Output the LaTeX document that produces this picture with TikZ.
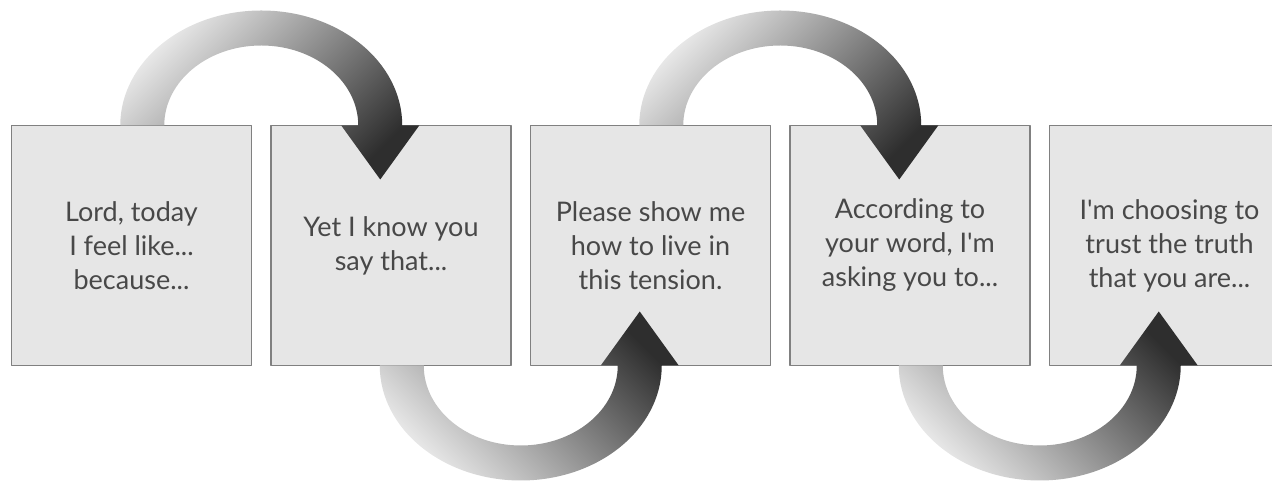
\documentclass[tikz,border=0pt]{standalone}
\usepackage{fontspec}
\setmainfont{Lato}
\usetikzlibrary{positioning,calc}
\definecolor{boxfill}{HTML}{E6E6E6}
\definecolor{boxline}{HTML}{808080}
\definecolor{boxtext}{HTML}{484848}
\definecolor{arrowlight}{HTML}{EAEAEA}
\definecolor{arrowdark}{HTML}{2E2E2E}
\begin{document}
\begin{tikzpicture}[x=1pt,y=1pt,line join=round]
	\tikzset{card/.style={draw=boxline,line width=1.2pt,fill=boxfill,minimum width=240pt,minimum height=240pt,
			inner sep=0pt,outer sep=0pt,align=center,text=boxtext,font=\fontsize{27}{34}\selectfont},
		over arrow/.style={top color=arrowlight,bottom color=arrowdark,shading angle=45},
		under arrow/.style={top color=arrowdark,bottom color=arrowlight,shading angle=-45}}
	\useasboundingbox (0,0) rectangle (1272,481);
	\clip (0,0) rectangle (1272,481);
	% the five cards
	\node[card] (b1) at (131.5,235.5) {Lord, today\\I feel like...\\because...};
	\node[card,right=19.5pt of b1] (b2) {Yet I know you\\say that...};
	\node[card,right=19.5pt of b2] (b3) {Please show me\\how to live in\\this tension.};
	\node[card,right=19.5pt of b3] (b4) {According to\\your word, I\textquotesingle m\\asking you to...};
	\node[card,right=19.5pt of b4] (b5) {I\textquotesingle m choosing to\\trust the truth\\that you are...};
	% arrows over the top
	\foreach \a/\b in {b1/b2,b3/b4}{
		\coordinate (m) at ($(\a.north)!.5!(\b.north)$);
		\shade[over arrow] ($(m)+(-141,0)$) arc[start angle=180,end angle=0,x radius=141pt,y radius=115pt]
			-- ++(17,0) -- ($(m)+(119,-54)$) -- ($(m)+(80,0)$) -- ($(m)+(97,0)$)
			arc[start angle=0,end angle=180,x radius=97pt,y radius=80pt] -- cycle;
	}
	% arrows underneath
	\foreach \a/\b in {b2/b3,b4/b5}{
		\coordinate (m) at ($(\a.south)!.5!(\b.south)$);
		\shade[under arrow] ($(m)+(-141,0)$) arc[start angle=180,end angle=360,x radius=141pt,y radius=115pt]
			-- ++(17,0) -- ($(m)+(119,54)$) -- ($(m)+(80,0)$) -- ($(m)+(97,0)$)
			arc[start angle=360,end angle=180,x radius=97pt,y radius=80pt] -- cycle;
	}
\end{tikzpicture}
\end{document}
